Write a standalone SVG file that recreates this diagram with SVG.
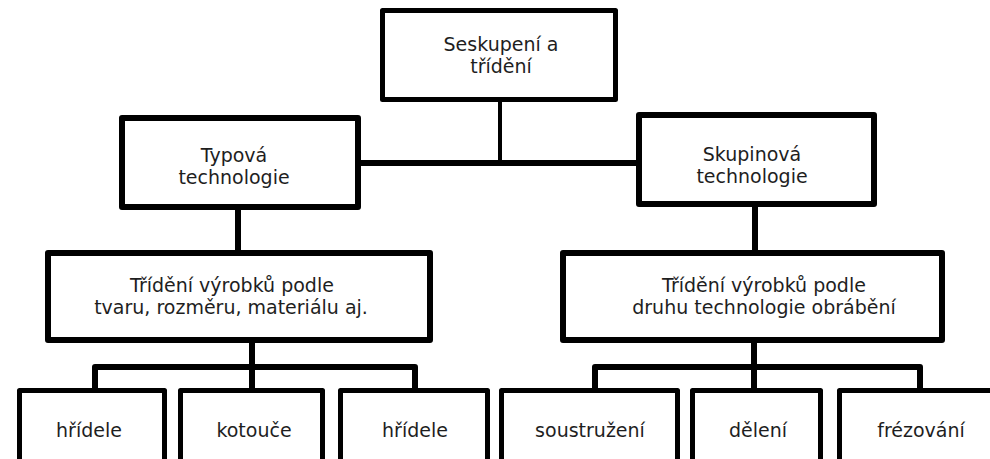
<svg xmlns="http://www.w3.org/2000/svg" width="990" height="459" viewBox="0 0 990 459">
<style>
.box{fill:#fff;stroke:#000;stroke-width:6;stroke-linejoin:round}
.sm{stroke-width:5}
.t{font-family:"DejaVu Sans",Verdana,sans-serif;font-size:19px;fill:#1e1e1e;text-anchor:middle}
.c{fill:none;stroke:#000;stroke-width:6;stroke-linejoin:round}
</style>
<rect width="990" height="459" fill="#fff"/>
<g id="connectors">
<line class="c" x1="500" y1="101" x2="500" y2="163" style="stroke-width:4"/>
<line class="c" x1="358" y1="163" x2="640" y2="163"/>
<line class="c" x1="238" y1="208" x2="238" y2="252"/>
<line class="c" x1="755" y1="205" x2="755" y2="252"/>
<line class="c" x1="252" y1="341" x2="252" y2="390"/>
<path class="c" d="M95,390 V367 H415 V390"/>
<line class="c" x1="754" y1="341" x2="754" y2="390"/>
<path class="c" d="M595,390 V367 H920 V390"/>
</g>
<g id="n-root">
<rect class="box sm" x="382.5" y="10.5" width="233" height="89"/>
<text class="t" x="501" y="51">Seskupení a</text>
<text class="t" x="501" y="73">třídění</text>
</g>
<g id="n-typova">
<rect class="box" x="122" y="118" width="236" height="89"/>
<text class="t" x="234" y="162">Typová</text>
<text class="t" x="234" y="184">technologie</text>
</g>
<g id="n-skupinova">
<rect class="box" x="639" y="115" width="235" height="89"/>
<text class="t" x="752" y="161">Skupinová</text>
<text class="t" x="752" y="183">technologie</text>
</g>
<g id="n-trideni1">
<rect class="box" x="48" y="253" width="382" height="87"/>
<text class="t" x="232" y="292">Třídění výrobků podle</text>
<text class="t" x="231" y="314">tvaru, rozměru, materiálu aj.</text>
</g>
<g id="n-trideni2">
<rect class="box" x="563" y="253" width="379" height="87"/>
<text class="t" x="764" y="292">Třídění výrobků podle</text>
<text class="t" x="764" y="314">druhu technologie obrábění</text>
</g>
<g id="n-hridele1">
<rect class="box sm" x="19.5" y="390.5" width="145" height="80"/>
<text class="t" x="89" y="437">hřídele</text>
</g>
<g id="n-kotouce">
<rect class="box sm" x="180.5" y="390.5" width="142" height="80"/>
<text class="t" x="254" y="437">kotouče</text>
</g>
<g id="n-hridele2">
<rect class="box sm" x="340.5" y="390.5" width="147" height="80"/>
<text class="t" x="415" y="437">hřídele</text>
</g>
<g id="n-soustruzeni">
<rect class="box sm" x="501.5" y="390.5" width="176" height="80"/>
<text class="t" x="590" y="437">soustružení</text>
</g>
<g id="n-deleni">
<rect class="box sm" x="692.5" y="390.5" width="128" height="80"/>
<text class="t" x="758" y="437">dělení</text>
</g>
<g id="n-frezovani">
<rect class="box sm" x="839.5" y="390.5" width="160" height="80"/>
<text class="t" x="921" y="437">frézování</text>
</g>
</svg>
